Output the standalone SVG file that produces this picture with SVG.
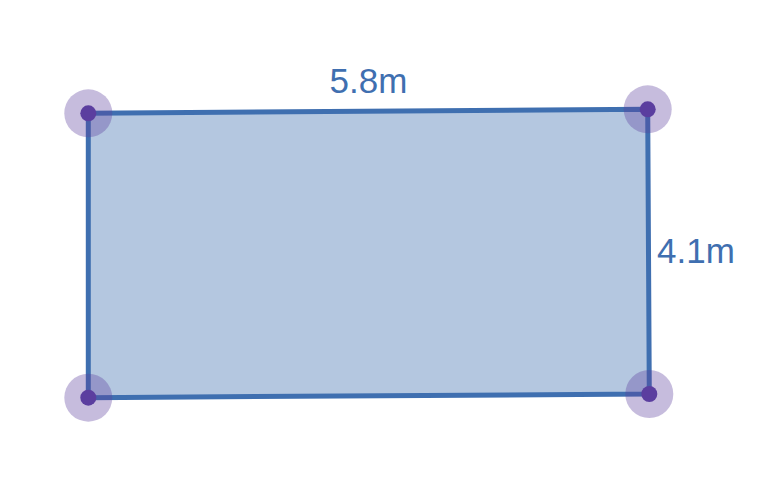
<svg xmlns="http://www.w3.org/2000/svg" width="780" height="484" viewBox="0 0 780 484">
<style>
.shape{fill:#3f6fb0;fill-opacity:0.39;stroke:#3f6fb0;stroke-width:5;stroke-linejoin:round}
.halo{fill:#5b3e9f;fill-opacity:0.35}
.dot{fill:#5b3e9f}
.lbl{font-family:"Liberation Sans",Arial,sans-serif;font-size:35px;fill:#3f6fb0}
</style>
<rect width="780" height="484" fill="#ffffff"/>
<g id="edges">
<polygon class="shape" points="88.3,113.3 647.7,109.3 649.3,394 88.3,397.7"/>
</g>
<g id="v1"><circle class="halo" cx="88.3" cy="113.3" r="24"/><circle class="dot" cx="88.3" cy="113.3" r="8"/></g>
<g id="v2"><circle class="halo" cx="647.7" cy="109.3" r="24"/><circle class="dot" cx="647.7" cy="109.3" r="8"/></g>
<g id="v3"><circle class="halo" cx="649.3" cy="394" r="24"/><circle class="dot" cx="649.3" cy="394" r="8"/></g>
<g id="v4"><circle class="halo" cx="88.3" cy="397.7" r="24"/><circle class="dot" cx="88.3" cy="397.7" r="8"/></g>
<g id="labels">
<text class="lbl" x="368.5" y="92.5" text-anchor="middle">5.8m</text>
<text class="lbl" x="657" y="262.5">4.1m</text>
</g>
</svg>
